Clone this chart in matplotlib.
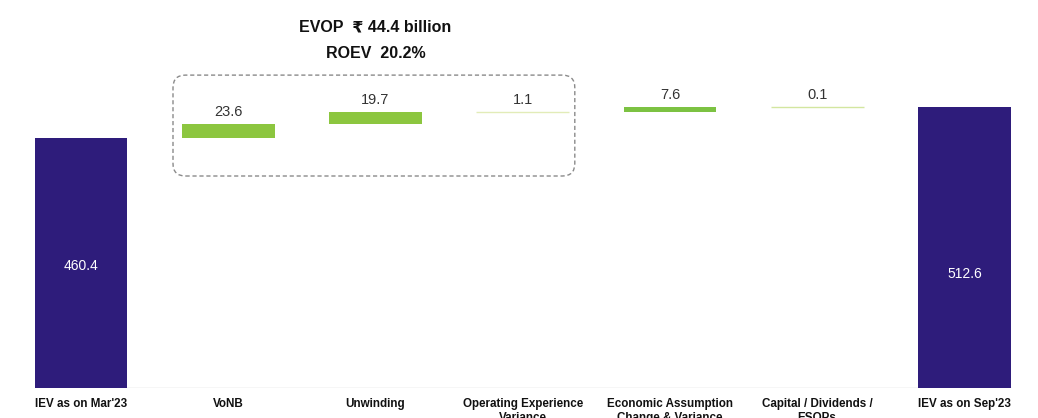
import matplotlib.pyplot as plt
from matplotlib.patches import FancyBboxPatch
from matplotlib.transforms import blended_transform_factory
import numpy as np

categories = ["IEV as on Mar'23", "VoNB", "Unwinding", "Operating Experience\nVariance",
              "Economic Assumption\nChange & Variance", "Capital / Dividends /\nESOPs",
              "IEV as on Sep'23"]
values = [460.4, 23.6, 19.7, 1.1, 7.6, 0.1, 512.6]
is_total = [True, False, False, False, False, False, True]
bar_colors = ["#2e1c7b", "#8cc63f", "#8cc63f", "#e2ecb8", "#7cc242", "#d3e6a0", "#2e1c7b"]

evop_text = "EVOP  \u20b9 44.4 billion"
roev_text = "ROEV  20.2%"

plt.rcParams['font.family'] = ['Liberation Sans', 'DejaVu Sans']

fig = plt.figure(figsize=(10.38, 4.18), dpi=100)
ax = fig.add_axes([0, 30 / 418, 1, 388 / 418])

x = np.arange(len(categories))
y_floor = 36.7
ax.set_xlim(-0.55, 6.5)
ax.set_ylim(y_floor, 694.3)

# waterfall bottoms
bottoms = []
run = 0
for v, t in zip(values, is_total):
    if t:
        bottoms.append(0)
        run = v
    else:
        bottoms.append(run)
        run += v

width = 0.63
for i in range(len(values)):
    thin = values[i] < 2
    ax.bar(x[i], values[i], bottom=bottoms[i], width=width, color=bar_colors[i],
           edgecolor=bar_colors[i], linewidth=1.0 if thin else 0)

# baseline
ax.hlines(y_floor + 0.8, x[0] - width / 2, x[-1] + width / 2, color="#d4d4d4", lw=1, zorder=0)

# labels
inside_frac = [0.49, 0.405]
k = 0
for i in range(len(values)):
    if is_total[i]:
        ly = y_floor + (values[i] - y_floor) * inside_frac[k]
        k += 1
        ax.text(x[i], ly, f"{values[i]:.1f}", color="white", fontsize=10,
                ha="center", va="center")
    else:
        ax.annotate(f"{values[i]:.1f}", (x[i], bottoms[i] + values[i]),
                    xytext=(0, 5), textcoords="offset pixels", ha="center",
                    va="bottom", fontsize=10.5, color="#333333")

# dashed rounded box around the EVOP components
sx = 1038 / (ax.get_xlim()[1] - ax.get_xlim()[0])
sy = 388 / (ax.get_ylim()[1] - ax.get_ylim()[0])
box_x0, box_x1 = x[1] - 0.375, x[3] + 0.354
box_y0, box_y1 = 396, 567
box = FancyBboxPatch((box_x0, box_y0), box_x1 - box_x0, box_y1 - box_y0,
                     boxstyle="round,pad=0,rounding_size=0.085",
                     mutation_aspect=sx / sy, fill=False, edgecolor="#8a8a8a",
                     linewidth=1.0, linestyle=(0, (3, 2)), zorder=3)
ax.add_patch(box)

trans = blended_transform_factory(ax.transData, ax.transAxes)
ax.text(2, 0.930, evop_text, transform=trans, ha="center", va="center",
        fontsize=11.5, fontweight="bold", color="#111111")
ax.text(2, 0.861, roev_text, transform=trans, ha="center", va="center",
        fontsize=11.5, fontweight="bold", color="#111111")

ax.set_xticks(x, categories, fontsize=8.4, fontweight="bold", color="#111111",
              linespacing=1.3)
ax.tick_params(axis="x", length=0, pad=7)
ax.set_yticks([])
for s in ax.spines.values():
    s.set_visible(False)

plt.savefig("out.png", dpi=100)
